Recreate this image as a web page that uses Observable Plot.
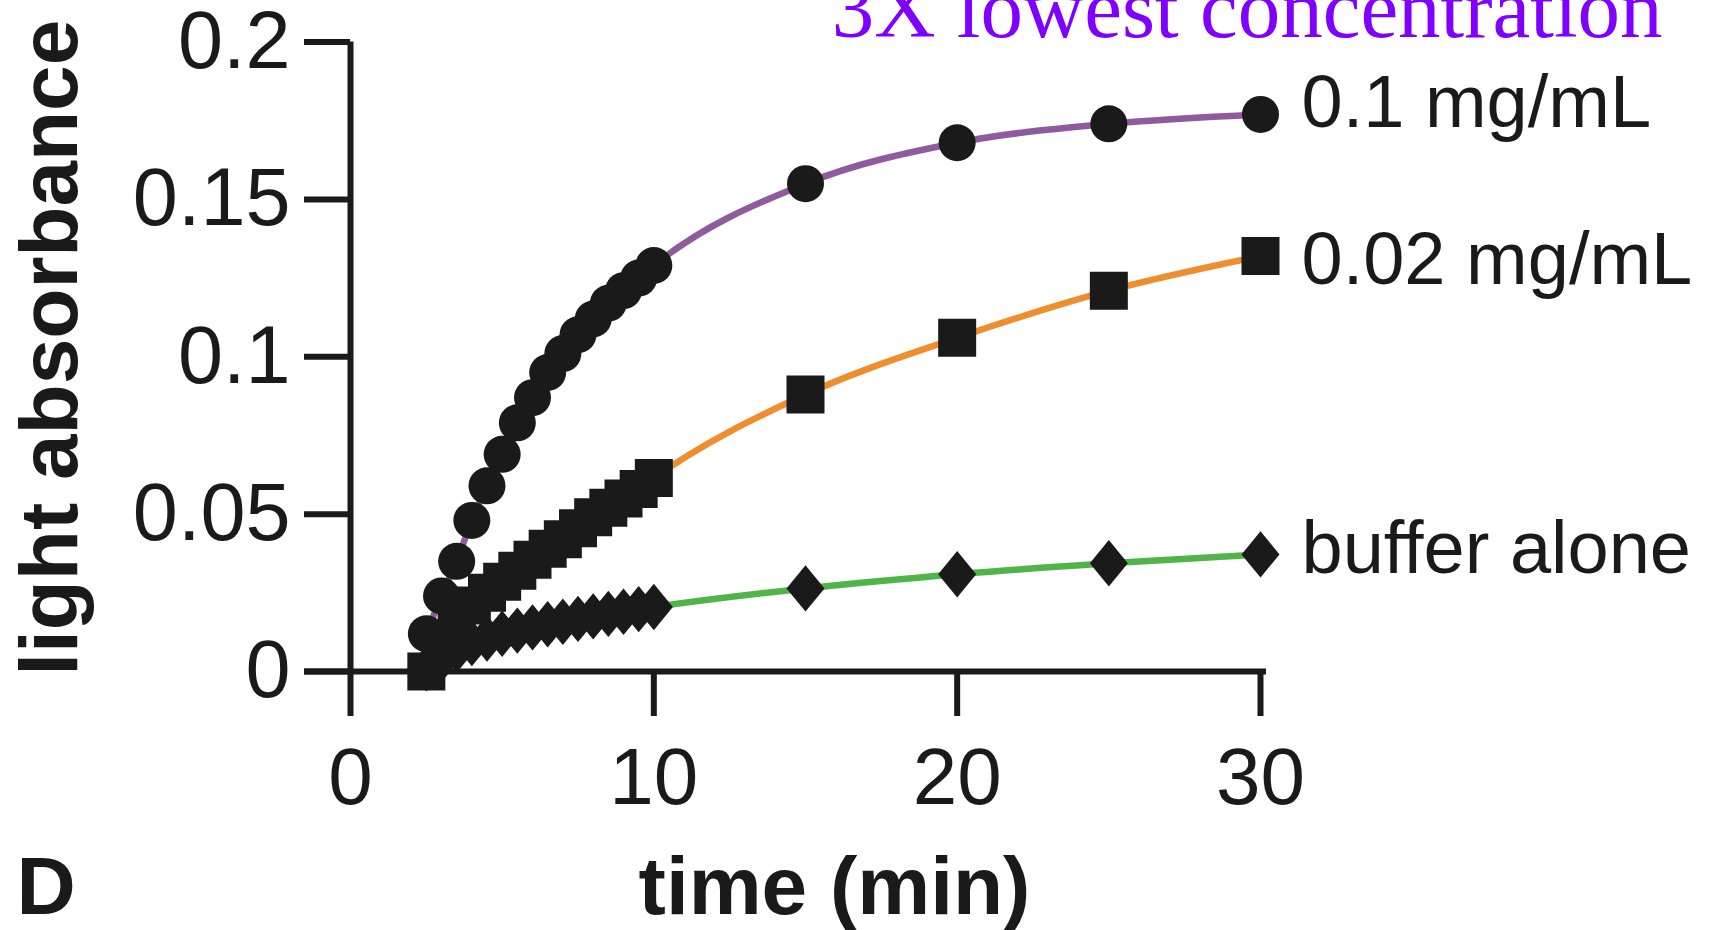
<!DOCTYPE html>
<html>
<head>
<meta charset="utf-8">
<script src="https://cdn.jsdelivr.net/npm/d3@7"></script>
<script src="https://cdn.jsdelivr.net/npm/@observablehq/plot@0.6"></script>
<style>
html, body { margin: 0; padding: 0; background: #fff; overflow: hidden; }
#chart svg { display: block; }
</style>
</head>
<body>
<div id="chart"></div>
<script>
// ---- data ----
const timeMin   = [2.5, 3, 3.5, 4, 4.5, 5, 5.5, 6, 6.5, 7, 7.5, 8, 8.5, 9, 9.5, 10, 15, 20, 25, 30];
const absHigh   = [0.012, 0.024, 0.035, 0.048, 0.059, 0.069, 0.079, 0.087, 0.095, 0.101, 0.107, 0.112, 0.117, 0.121, 0.125, 0.129, 0.155, 0.168, 0.174, 0.177];
const absLow    = [0.000, 0.008, 0.015, 0.021, 0.025, 0.0285, 0.032, 0.0355, 0.039, 0.042, 0.0455, 0.049, 0.052, 0.055, 0.058, 0.0615, 0.088, 0.106, 0.121, 0.132];
const absBuffer = [0.001, 0.004, 0.007, 0.009, 0.0105, 0.012, 0.013, 0.014, 0.015, 0.0158, 0.0167, 0.0175, 0.0183, 0.019, 0.0198, 0.0205, 0.0264, 0.0309, 0.0344, 0.0372];
const seriesNames = ["0.1 mg/mL", "0.02 mg/mL", "buffer alone"];
const lineColors  = ["#8f5a9e", "#ee8e2e", "#4fb548"];
const xTicks = [0, 10, 20, 30];
const yTicks = [0, 0.05, 0.1, 0.15, 0.2];
const yTickLabels = ["0", "0.05", "0.1", "0.15", "0.2"];
const xTitle = "time (min)";
const yTitle = "light absorbance";
const panelLetter = "D";
const noteText = "3X lowest concentration";

// ---- build table ----
const seriesValues = [absHigh, absLow, absBuffer];
const rows = [];
seriesNames.forEach((s, k) => {
  timeMin.forEach((t, i) => rows.push({series: s, t, v: seriesValues[k][i]}));
});
const lastRows = seriesNames.map((s, k) => ({series: s, t: timeMin[timeMin.length - 1], v: seriesValues[k][timeMin.length - 1]}));

// ---- custom marker shapes ----
const squareSym = {draw(ctx, size) {
  const r = Math.sqrt(size / Math.PI);
  ctx.moveTo(-r, -r); ctx.lineTo(r, -r); ctx.lineTo(r, r); ctx.lineTo(-r, r); ctx.closePath();
}};
const diamondSym = {draw(ctx, size) {
  const r = Math.sqrt(size / Math.PI), h = r * 1.22;
  ctx.moveTo(0, -h); ctx.lineTo(r, 0); ctx.lineTo(0, h); ctx.lineTo(-r, 0); ctx.closePath();
}};

const ink = "#1a1a1a";
const sans = "'Liberation Sans', Arial, Helvetica, sans-serif";

const plot = Plot.plot({
  width: 1714,
  height: 930,
  marginLeft: 350,
  marginRight: 454,
  marginTop: 41.5,
  marginBottom: 259,
  style: {fontFamily: sans, color: ink, background: "#fff", overflow: "visible"},
  x: {domain: [0, 30]},
  y: {domain: [0, 0.2]},
  color: {domain: seriesNames, range: lineColors},
  marks: [
    Plot.line(rows, {x: "t", y: "v", z: "series", stroke: "series", strokeWidth: 6.5, curve: "monotone-x"}),
    Plot.ruleX([0], {y1: 0, y2: 0.2, stroke: ink, strokeWidth: 6}),
    Plot.ruleY([0], {stroke: ink, strokeWidth: 6, insetLeft: -46, insetRight: -6}),
    Plot.axisX({ticks: xTicks, tickSize: 45, tickPadding: 31, fontSize: 80, strokeWidth: 6, label: null, tickFormat: d => String(d)}),
    Plot.axisY({ticks: yTicks, tickSize: 46, tickPadding: 14, fontSize: 81, strokeWidth: 6, label: null, tickFormat: d => yTickLabels[yTicks.indexOf(d)]}),
    Plot.dot(rows.filter(d => d.series === seriesNames[2]), {x: "t", y: "v", r: 19, symbol: diamondSym, fill: ink, stroke: "none"}),
    Plot.dot(rows.filter(d => d.series === seriesNames[1]), {x: "t", y: "v", r: 19, symbol: squareSym, fill: ink, stroke: "none"}),
    Plot.dot(rows.filter(d => d.series === seriesNames[0]), {x: "t", y: "v", r: 18.5, symbol: "circle", fill: ink, stroke: "none"}),
    Plot.text(lastRows.filter(d => d.series === seriesNames[0]), {x: "t", y: "v", text: "series", dx: 41, dy: -11, textAnchor: "start", fontSize: 74, fill: ink}),
    Plot.text(lastRows.filter(d => d.series === seriesNames[1]), {x: "t", y: "v", text: "series", dx: 41, dy: 4, textAnchor: "start", fontSize: 74, fill: ink}),
    Plot.text(lastRows.filter(d => d.series === seriesNames[2]), {x: "t", y: "v", text: "series", dx: 41, dy: -5, textAnchor: "start", fontSize: 74, fill: ink}),
    Plot.text([xTitle], {text: d => d, frameAnchor: "bottom", dx: 29, dy: 242, textAnchor: "middle", lineAnchor: "bottom", fontSize: 82, fontWeight: "bold", fill: ink}),
    Plot.text([yTitle], {text: d => d, frameAnchor: "left", rotate: -90, dx: -274, dy: -9, textAnchor: "middle", lineAnchor: "bottom", fontSize: 82, fontWeight: "bold", fill: ink}),
    Plot.text([panelLetter], {text: d => d, frameAnchor: "bottom-left", dx: -334, dy: 242, textAnchor: "start", lineAnchor: "bottom", fontSize: 82, fontWeight: "bold", fill: ink}),
    Plot.text([noteText], {text: d => d, frameAnchor: "top-right", dx: 402, dy: -5.5, textAnchor: "end", lineAnchor: "bottom", fontSize: 85, fontFamily: "'Liberation Serif', 'Times New Roman', serif", fill: "#8000ff"})
  ]
});

document.getElementById("chart").appendChild(plot);
</script>
</body>
</html>
